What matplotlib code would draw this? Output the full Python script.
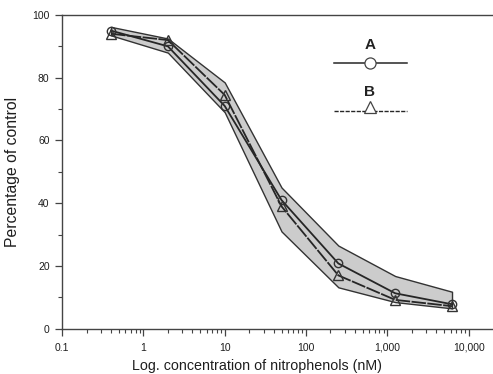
import matplotlib
matplotlib.use("Agg")
import matplotlib.pyplot as plt
from matplotlib.lines import Line2D
from matplotlib.ticker import FixedLocator, FixedFormatter, LogLocator, NullFormatter

plt.rcParams['font.family'] = ['Liberation Sans', 'DejaVu Sans']

conc = [0.4, 2, 10, 50, 250, 1250, 6250]
series_a = [95.0, 90.0, 71.0, 41.0, 20.8, 11.3, 7.8]
series_b = [94.0, 92.0, 74.5, 39.0, 17.0, 9.2, 7.2]
band_upper = [96.2, 92.5, 78.5, 45.0, 26.5, 16.8, 11.8]
band_lower = [93.5, 88.0, 69.0, 31.0, 13.2, 8.5, 6.5]
x_ticks = [0.1, 1, 10, 100, 1000, 10000]
x_tick_labels = ['0.1', '1', '10', '100', '1,000', '10,000']
y_ticks = [0, 20, 40, 60, 80, 100]

fig = plt.figure(figsize=(4.93, 3.74), dpi=100)
ax = fig.add_axes([0.126, 0.121, 0.874, 0.839])

ink = '#262626'
ax.fill_between(conc, band_lower, band_upper, facecolor='#cccccc', edgecolor='#333333', linewidth=1.0, zorder=1)
ax.plot(conc, series_a, '-', color=ink, linewidth=1.3, marker='o', markersize=6,
        markerfacecolor='none', markeredgecolor='#333333', markeredgewidth=1.0, zorder=3)
ax.plot(conc, series_b, '--', color=ink, linewidth=1.3, marker='^', markersize=6.5,
        markerfacecolor='none', markeredgecolor='#333333', markeredgewidth=1.0, zorder=3,
        dashes=(8, 0.8))

ax.set_xscale('log')
ax.set_xlim(0.1, 10 ** 4.3)
ax.set_ylim(0, 100)
ax.xaxis.set_major_locator(FixedLocator(x_ticks))
ax.xaxis.set_major_formatter(FixedFormatter(x_tick_labels))
ax.xaxis.set_minor_locator(LogLocator(base=10, subs=range(2, 10), numticks=20))
ax.xaxis.set_minor_formatter(NullFormatter())
ax.set_yticks(y_ticks)
ax.set_yticks([10, 30, 50, 70, 90], minor=True)

ax.spines['right'].set_visible(False)
for s in ['left', 'bottom', 'top']:
    ax.spines[s].set_color('#444444')
    ax.spines[s].set_linewidth(1.0)

ax.tick_params(axis='both', which='major', direction='out', length=5, width=0.9, color='#444444',
               labelsize=7.5, labelcolor='#1e1e1e', pad=4)
ax.tick_params(axis='both', which='minor', direction='out', length=3, width=0.8, color='#444444')
ax.tick_params(axis='x', which='major', pad=5)

ax.set_xlabel('Log. concentration of nitrophenols (nM)', fontsize=10.3, color='#1e1e1e', labelpad=1)
ax.xaxis.set_label_coords(0.452, -0.095)
ax.set_ylabel('Percentage of control', fontsize=11.3, color='#1e1e1e', labelpad=9)

# legend drawn manually
tr = ax.transAxes
ax.text(0.714, 0.905, 'A', transform=tr, ha='center', va='center', fontsize=11, fontweight='bold', color='#222222')
ax.add_line(Line2D([0.63, 0.80], [0.848, 0.848], transform=tr, color=ink, linewidth=1.1))
ax.add_line(Line2D([0.714], [0.848], transform=tr, marker='o', markersize=8, markerfacecolor='white',
                   markeredgecolor='#444444', markeredgewidth=0.9))
ax.text(0.714, 0.755, 'B', transform=tr, ha='center', va='center', fontsize=11, fontweight='bold', color='#222222')
ax.add_line(Line2D([0.63, 0.80], [0.695, 0.695], transform=tr, color=ink, linewidth=1.0, linestyle='--', dashes=(3, 1)))
ax.add_line(Line2D([0.714], [0.708], transform=tr, marker='^', markersize=9, markerfacecolor='white',
                   markeredgecolor='#444444', markeredgewidth=0.9))

fig.savefig('out.png', dpi=100)
